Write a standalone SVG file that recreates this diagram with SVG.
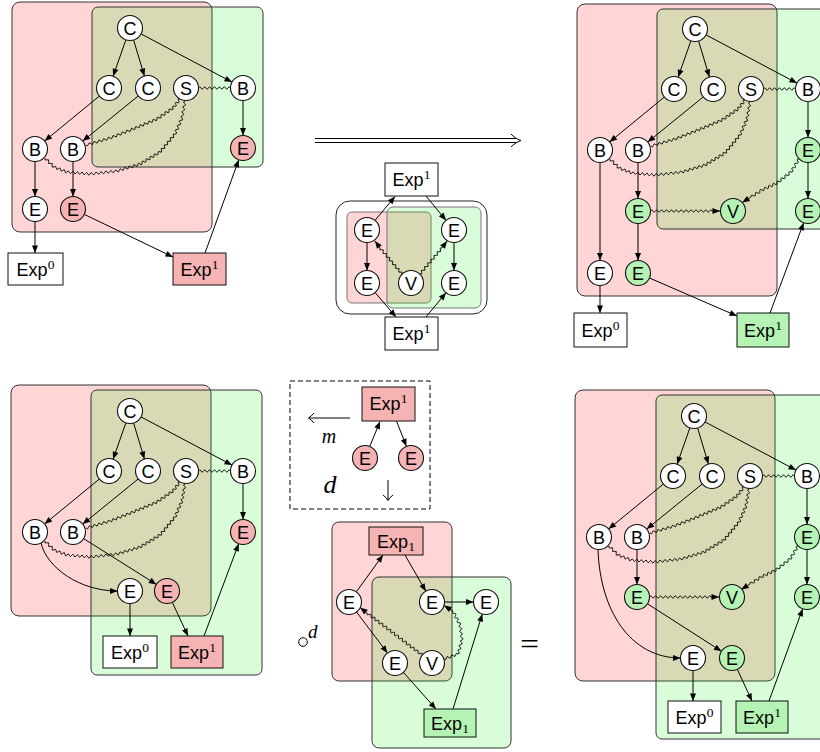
<svg xmlns="http://www.w3.org/2000/svg" width="820" height="752" viewBox="0 0 820 752">
<defs>
<style>
.pkr{fill:#ffd5d5;stroke:#333;stroke-width:1}
.grr{fill:#00f000;fill-opacity:0.15;stroke:#333;stroke-width:1}
.pkm{fill:#ffd5d5;stroke:#777;stroke-width:1}
.grm{fill:#00f000;fill-opacity:0.15;stroke:#777;stroke-width:1}
.n circle{fill:#fff;stroke:#111;stroke-width:1.1}
.n text,.bx text{font-family:"Liberation Sans",Arial,sans-serif;font-size:18px;text-anchor:middle;fill:#000}
.pk circle{fill:#f6b3b3}
.gn circle{fill:#b5f3b5}
.bx rect{fill:#fff;stroke:#111;stroke-width:1}
.bx.pk rect{fill:#f6b3b3}
.bx.gn rect{fill:#b5f3b5}
.bx text tspan{font-family:"Liberation Serif","Times New Roman",serif;font-size:13.5px}
.ar{fill:none;stroke:#000;stroke-width:1;marker-end:url(#ah)}
.wv{fill:none;stroke:#000;stroke-width:0.9}
.wa{fill:none;stroke:#000;stroke-width:0.9;marker-end:url(#ah)}
.sym{fill:none;stroke:#000;stroke-width:1}
.it{font-family:"Liberation Serif","Times New Roman",serif;font-style:italic;fill:#000}
</style>
<marker id="ah" viewBox="-8 -4 9 8" refX="0" refY="0" markerWidth="9" markerHeight="8" markerUnits="userSpaceOnUse" orient="auto"><path d="M0,0L-7.5,-3L-7.5,3z" fill="#000"/></marker>
<path id="wH" class="wa" d="M0,0q1.23,-2.6 2.46,0t2.46,0 2.46,0 2.46,0 2.46,0 2.46,0 2.46,0 2.46,0 2.46,0 2.46,0 2.46,0 2.46,0 2.46,0 2.46,0 2.46,0 2.46,0 2.46,0 2.46,0 2.46,0 2.46,0 2.46,0 2.46,0 2.46,0 2.46,0 2.46,0l8,0"/>
<path id="wER" class="wa" d="M0,0q-2.88,-0.28 -1.33,2.17t-1.33,2.17 -1.33,2.17 -1.33,2.17 -1.33,2.17 -1.33,2.17q-2.61,-1.26 -2,1.57t-2,1.57 -2,1.57 -2,1.57 -2,1.57 -2,1.57 -2,1.57q0.03,2.86 -2.14,1t-2.14,1 -2.14,1 -2.14,1 -2.14,1 -2.14,1 -2.14,1q-2.5,-1.49 -2.2,1.4t-2.2,1.4 -2.2,1.4 -2.2,1.4 -2.2,1.4l-8.84,5.49"/>
<g id="headWaves">
<path class="wv" d="M68.5,60q1.23,-2.6 2.46,0t2.46,0 2.46,0 2.46,0 2.46,0 2.46,0 2.46,0 2.46,0 2.46,0 2.46,0 2.46,0 2.46,0 2.46,0"/>
<path class="wv" d="M50,71q-2.75,-0.7 -1.4,1.8t-1.4,1.8 -1.4,1.8 -1.4,1.8 -1.4,1.8q0.47,2.83 -2,1.38t-2,1.38 -2,1.38 -2,1.38 -2,1.38 -2,1.38 -2,1.38 -2,1.38q-0.09,2.86 -2.18,0.91t-2.18,0.91 -2.18,0.91 -2.18,0.91 -2.18,0.91 -2.18,0.91 -2.18,0.91 -2.18,0.91 -2.18,0.91 -2.18,0.91 -2.18,0.91q-2.1,-1.97 -2.3,0.9t-2.3,0.9 -2.3,0.9 -2.3,0.9 -2.3,0.9 -2.3,0.9 -2.3,0.9 -2.3,0.9 -2.3,0.9 -2.3,0.9q-1.93,-2.15 -2.4,0.7t-2.4,0.7 -2.4,0.7 -2.4,0.7 -2.4,0.7 -2.4,0.7 -2.4,0.7 -2.4,0.7 -2.4,0.7 -2.4,0.7"/>
<path class="wv" d="M55,73q-2.78,0.76 -0.43,2.43t-0.43,2.43 -0.43,2.43 -0.43,2.43 -0.43,2.43 -0.43,2.43 -0.43,2.43q1.88,2.19 -1,2.29t-1,2.29 -1,2.29 -1,2.29 -1,2.29 -1,2.29 -1,2.29q-2.75,-0.76 -1.5,1.8t-1.5,1.8 -1.5,1.8 -1.5,1.8 -1.5,1.8 -1.5,1.8 -1.5,1.8 -1.5,1.8 -1.5,1.8 -1.5,1.8q-2.34,-1.63 -2,1.2t-2,1.2 -2,1.2 -2,1.2 -2,1.2 -2,1.2 -2,1.2 -2,1.2 -2,1.2 -2,1.2q-1.91,-2.14 -2.3,0.7t-2.3,0.7 -2.3,0.7 -2.3,0.7 -2.3,0.7 -2.3,0.7 -2.3,0.7 -2.3,0.7 -2.3,0.7 -2.3,0.7q-1.51,-2.45 -2.45,0.27t-2.45,0.27 -2.45,0.27 -2.45,0.27 -2.45,0.27 -2.45,0.27 -2.45,0.27 -2.45,0.27 -2.45,0.27 -2.45,0.27 -2.45,0.27q-1.38,2.49 -2.3,-0.2t-2.3,-0.2 -2.3,-0.2 -2.3,-0.2 -2.3,-0.2 -2.3,-0.2 -2.3,-0.2 -2.3,-0.2 -2.3,-0.2 -2.3,-0.2q-2.02,2.01 -2.17,-0.83t-2.17,-0.83 -2.17,-0.83 -2.17,-0.83 -2.17,-0.83 -2.17,-0.83q-2.74,0.94 -1.8,-1.8t-1.8,-1.8 -1.8,-1.8 -1.8,-1.8 -1.8,-1.8"/>
</g>
<g id="headArrows">
<path class="ar" d="M-4.1,11.8L-16.9,48.2"/>
<path class="ar" d="M3.6,12L14.4,48"/>
<path class="ar" d="M11,5.9L102,54.1"/>
<path class="ar" d="M-30.6,68L-85.4,113"/>
<path class="ar" d="M8.3,67.9L-47.3,113.1"/>
</g>
</defs>
<rect width="820" height="752" fill="#fff"/>
<g id="regions">
<rect class="pkr" x="12" y="2" width="200" height="230" rx="8"/>
<rect class="grr" x="92" y="7" width="171" height="160" rx="6"/>
<rect class="pkr" x="577" y="4" width="200" height="292" rx="8"/>
<rect class="grr" x="657" y="9" width="180" height="220" rx="6"/>
<rect class="pkr" x="11" y="385" width="200" height="231" rx="8"/>
<rect class="grr" x="91" y="390" width="171" height="285" rx="6"/>
<rect class="pkr" x="575" y="390" width="200" height="291" rx="8"/>
<rect class="grr" x="656" y="395" width="180" height="344" rx="6"/>
<rect x="336" y="201" width="151" height="113" rx="14" fill="#fff" stroke="#222" stroke-width="1"/>
<rect class="pkm" x="347" y="212" width="84" height="91" rx="5"/>
<rect class="grm" x="387" y="207" width="94" height="101" rx="6"/>
<rect class="pkr" x="332" y="522" width="120" height="159" rx="7"/>
<rect class="grr" x="372" y="577" width="139" height="171" rx="7"/>
<rect x="290" y="381" width="140" height="128" fill="none" stroke="#000" stroke-width="1" stroke-dasharray="5 3"/>
</g>
<g id="connectors">
<use href="#headArrows" x="130" y="28"/>
<use href="#headWaves" x="130" y="28"/>
<path class="ar" d="M243,100.5V135.5"/>
<path class="ar" d="M35,161.5V196.5"/>
<path class="ar" d="M73,161.5V196.5"/>
<path class="ar" d="M35,221.5V253"/>
<path class="ar" d="M84.3,214.4L173,257"/>
<path class="ar" d="M205,253L238.75,159.75"/>
<use href="#headArrows" x="130" y="411"/>
<use href="#headWaves" x="130" y="411"/>
<path class="ar" d="M243,483.5V519.5"/>
<path class="ar" d="M41,543C47,568 80,591 117.5,591"/>
<path class="ar" d="M83.6,538.6L156.4,584.4"/>
<path class="ar" d="M130,603.5V636"/>
<path class="ar" d="M172.3,602.3L188,636"/>
<path class="ar" d="M204,636L238.7,543.7"/>
<use href="#headArrows" x="695" y="29"/>
<use href="#headWaves" x="695" y="29"/>
<path class="ar" d="M808,101.5V137.5"/>
<path class="ar" d="M808,162.5V198.5"/>
<path class="ar" d="M638,162.5V198.5"/>
<path class="ar" d="M638,223.5V260.5"/>
<path class="ar" d="M600,162.5V260.5"/>
<path class="ar" d="M600,285.5V313"/>
<path class="ar" d="M649.5,278L737,316"/>
<path class="ar" d="M770,313L803.7,222.7"/>
<use href="#wH" x="650.5" y="211"/>
<use href="#wER" x="799" y="159"/>
<use href="#headArrows" x="694" y="416"/>
<use href="#headWaves" x="694" y="416"/>
<path class="ar" d="M807,488.5V524.5"/>
<path class="ar" d="M807,549.5V584.5"/>
<path class="ar" d="M637,549.5V584.5"/>
<path class="ar" d="M647.5,603.8L721.5,651.25"/>
<path class="ar" d="M598,549.5C600,610 630,658 680.5,658"/>
<path class="ar" d="M693,670.5V701"/>
<path class="ar" d="M737.3,669.3L752,701"/>
<path class="ar" d="M769,701L802.7,608.7"/>
<use href="#wH" x="649.5" y="597"/>
<use href="#wER" x="798" y="546"/>
<path class="ar" d="M375,220.4L395,196.5"/>
<path class="ar" d="M426,196L446,220.3"/>
<path class="ar" d="M367,242.5V270.5"/>
<path class="ar" d="M454,242.5V270.5"/>
<path class="ar" d="M375.1,292.5L396,317"/>
<path class="ar" d="M426,317L446,292.7"/>
<path class="wa" d="M402,274q1.2,-2.61 -1.57,-1.86t-1.57,-1.86 -1.57,-1.86 -1.57,-1.86 -1.57,-1.86 -1.57,-1.86 -1.57,-1.86 -1.57,-1.86 -1.57,-1.86 -1.57,-1.86 -1.57,-1.86 -1.57,-1.86 -1.57,-1.86 -1.57,-1.86L375,241"/>
<path class="wa" d="M420,274q2.77,0.75 1.57,-1.86t1.57,-1.86 1.57,-1.86 1.57,-1.86 1.57,-1.86 1.57,-1.86 1.57,-1.86 1.57,-1.86 1.57,-1.86 1.57,-1.86 1.57,-1.86 1.57,-1.86 1.57,-1.86 1.57,-1.86L447,241"/>
<path class="ar" d="M369.75,446.4L380,421.5"/>
<path class="ar" d="M396.5,421L406.4,446.35"/>
<path class="ar" d="M356.3,591.9L383,555"/>
<path class="ar" d="M405,555L425.8,591.2"/>
<path class="ar" d="M444.5,602L473.5,602"/>
<path class="ar" d="M356.5,612L387.5,653"/>
<path class="ar" d="M403.3,672.3L436,709"/>
<path class="ar" d="M453,709L482.3,613.9"/>
<path class="wa" d="M422,655q0.6,-2.82 -1.96,-1.5t-1.96,-1.5 -1.96,-1.5 -1.96,-1.5 -1.96,-1.5 -1.96,-1.5 -1.96,-1.5 -1.96,-1.5 -1.96,-1.5 -1.96,-1.5 -1.96,-1.5 -1.96,-1.5 -1.96,-1.5 -1.96,-1.5 -1.96,-1.5 -1.96,-1.5 -1.96,-1.5 -1.96,-1.5 -1.96,-1.5 -1.96,-1.5 -1.96,-1.5 -1.96,-1.5 -1.96,-1.5 -1.96,-1.5 -1.96,-1.5 -1.96,-1.5 -1.96,-1.5 -1.96,-1.5L360,607.6"/>
<path class="wa" d="M444,659q2.04,2.03 2.33,-0.83t2.33,-0.83 2.33,-0.83 2.33,-0.83 2.33,-0.83 2.33,-0.83q2.83,-0.45 0.67,-2.33t0.67,-2.33 0.67,-2.33 0.67,-2.33 0.67,-2.33 0.67,-2.33q2.41,-1.59 -0.33,-2.5t-0.33,-2.5 -0.33,-2.5 -0.33,-2.5 -0.33,-2.5 -0.33,-2.5q1.74,-2.33 -1.17,-2.33t-1.17,-2.33 -1.17,-2.33 -1.17,-2.33 -1.17,-2.33 -1.17,-2.33L444,605.5"/>
</g>
<g id="symbols">
<path class="sym" d="M315,138.5H516M315,142.5H516"/>
<path class="sym" d="M511,134C513.5,136.5 516.5,139 521,140.5C516.5,142 513.5,144.5 511,147"/>
<path class="sym" d="M309,418H350M314,413Q311,416.5 308.5,418Q311,419.5 314,423"/>
<path class="sym" d="M388,480V500M383,495Q386.5,497.5 388,500.5Q389.5,497.5 393,495"/>
<circle class="sym" cx="303" cy="642" r="4.3"/>
</g>
<g id="labels">
<text class="it" x="329" y="443" font-size="20" text-anchor="middle">m</text>
<text class="it" x="330" y="493" font-size="26" text-anchor="middle">d</text>
<text class="it" x="308" y="638" font-size="19">d</text>
<text x="520" y="654" font-family="Liberation Serif,serif" font-size="30" textLength="19" lengthAdjust="spacingAndGlyphs">=</text>
</g>
<g id="nodes">
<g id="a-C" class="n"><circle cx="130" cy="28" r="12.5"/><text x="130" y="34.5">C</text></g>
<g id="a-C1" class="n"><circle cx="109" cy="88" r="12.5"/><text x="109" y="94.5">C</text></g>
<g id="a-C2" class="n"><circle cx="148" cy="88" r="12.5"/><text x="148" y="94.5">C</text></g>
<g id="a-S" class="n"><circle cx="186" cy="88" r="12.5"/><text x="186" y="94.5">S</text></g>
<g id="a-B3" class="n"><circle cx="243" cy="88" r="12.5"/><text x="243" y="94.5">B</text></g>
<g id="a-B1" class="n"><circle cx="35" cy="149" r="12.5"/><text x="35" y="155.5">B</text></g>
<g id="a-B2" class="n"><circle cx="73" cy="149" r="12.5"/><text x="73" y="155.5">B</text></g>
<g id="a-E3" class="n pk"><circle cx="243" cy="148" r="12.5"/><text x="243" y="154.5">E</text></g>
<g id="a-E1" class="n"><circle cx="35" cy="209" r="12.5"/><text x="35" y="215.5">E</text></g>
<g id="a-E2" class="n pk"><circle cx="73" cy="209" r="12.5"/><text x="73" y="215.5">E</text></g>
<g id="a-X0" class="bx"><rect x="8" y="253" width="55" height="32"/><text x="35.5" y="275.5">Exp<tspan dy="-7">0</tspan></text></g>
<g id="a-X1" class="bx pk"><rect x="173" y="253" width="53" height="32"/><text x="199.5" y="275.5">Exp<tspan dy="-7">1</tspan></text></g>

<g id="c-C" class="n"><circle cx="130" cy="411" r="12.5"/><text x="130" y="417.5">C</text></g>
<g id="c-C1" class="n"><circle cx="109" cy="471" r="12.5"/><text x="109" y="477.5">C</text></g>
<g id="c-C2" class="n"><circle cx="148" cy="471" r="12.5"/><text x="148" y="477.5">C</text></g>
<g id="c-S" class="n"><circle cx="186" cy="471" r="12.5"/><text x="186" y="477.5">S</text></g>
<g id="c-B3" class="n"><circle cx="243" cy="471" r="12.5"/><text x="243" y="477.5">B</text></g>
<g id="c-B1" class="n"><circle cx="35" cy="532" r="12.5"/><text x="35" y="538.5">B</text></g>
<g id="c-B2" class="n"><circle cx="73" cy="532" r="12.5"/><text x="73" y="538.5">B</text></g>
<g id="c-E3" class="n pk"><circle cx="243" cy="532" r="12.5"/><text x="243" y="538.5">E</text></g>
<g id="c-E1" class="n"><circle cx="130" cy="591" r="12.5"/><text x="130" y="597.5">E</text></g>
<g id="c-E2" class="n pk"><circle cx="167" cy="591" r="12.5"/><text x="167" y="597.5">E</text></g>
<g id="c-X0" class="bx"><rect x="103" y="636" width="54" height="32"/><text x="130" y="658.5">Exp<tspan dy="-7">0</tspan></text></g>
<g id="c-X1" class="bx pk"><rect x="171" y="636" width="52" height="32"/><text x="197" y="658.5">Exp<tspan dy="-7">1</tspan></text></g>

<g id="b-C" class="n"><circle cx="695" cy="29" r="12.5"/><text x="695" y="35.5">C</text></g>
<g id="b-C1" class="n"><circle cx="674" cy="89" r="12.5"/><text x="674" y="95.5">C</text></g>
<g id="b-C2" class="n"><circle cx="713" cy="89" r="12.5"/><text x="713" y="95.5">C</text></g>
<g id="b-S" class="n"><circle cx="751" cy="89" r="12.5"/><text x="751" y="95.5">S</text></g>
<g id="b-B3" class="n"><circle cx="808" cy="89" r="12.5"/><text x="808" y="95.5">B</text></g>
<g id="b-B1" class="n"><circle cx="600" cy="150" r="12.5"/><text x="600" y="156.5">B</text></g>
<g id="b-B2" class="n"><circle cx="638" cy="150" r="12.5"/><text x="638" y="156.5">B</text></g>
<g id="b-E3" class="n gn"><circle cx="808" cy="150" r="12.5"/><text x="808" y="156.5">E</text></g>
<g id="b-E2" class="n gn"><circle cx="638" cy="211" r="12.5"/><text x="638" y="217.5">E</text></g>
<g id="b-V" class="n gn"><circle cx="733" cy="211" r="12.5"/><text x="733" y="217.5">V</text></g>
<g id="b-E4" class="n gn"><circle cx="808" cy="211" r="12.5"/><text x="808" y="217.5">E</text></g>
<g id="b-E1" class="n"><circle cx="600" cy="273" r="12.5"/><text x="600" y="279.5">E</text></g>
<g id="b-E5" class="n gn"><circle cx="638" cy="273" r="12.5"/><text x="638" y="279.5">E</text></g>
<g id="b-X0" class="bx"><rect x="574" y="313" width="53" height="34"/><text x="600.5" y="336.5">Exp<tspan dy="-7">0</tspan></text></g>
<g id="b-X1" class="bx gn"><rect x="737" y="313" width="52" height="34"/><text x="763" y="336.5">Exp<tspan dy="-7">1</tspan></text></g>

<g id="d-C" class="n"><circle cx="694" cy="416" r="12.5"/><text x="694" y="422.5">C</text></g>
<g id="d-C1" class="n"><circle cx="673" cy="476" r="12.5"/><text x="673" y="482.5">C</text></g>
<g id="d-C2" class="n"><circle cx="712" cy="476" r="12.5"/><text x="712" y="482.5">C</text></g>
<g id="d-S" class="n"><circle cx="750" cy="476" r="12.5"/><text x="750" y="482.5">S</text></g>
<g id="d-B3" class="n"><circle cx="807" cy="476" r="12.5"/><text x="807" y="482.5">B</text></g>
<g id="d-B1" class="n"><circle cx="599" cy="537" r="12.5"/><text x="599" y="543.5">B</text></g>
<g id="d-B2" class="n"><circle cx="637" cy="537" r="12.5"/><text x="637" y="543.5">B</text></g>
<g id="d-E3" class="n gn"><circle cx="807" cy="537" r="12.5"/><text x="807" y="543.5">E</text></g>
<g id="d-E2" class="n gn"><circle cx="637" cy="597" r="12.5"/><text x="637" y="603.5">E</text></g>
<g id="d-V" class="n gn"><circle cx="732" cy="597" r="12.5"/><text x="732" y="603.5">V</text></g>
<g id="d-E4" class="n gn"><circle cx="807" cy="597" r="12.5"/><text x="807" y="603.5">E</text></g>
<g id="d-E1" class="n"><circle cx="693" cy="658" r="12.5"/><text x="693" y="664.5">E</text></g>
<g id="d-E5" class="n gn"><circle cx="732" cy="658" r="12.5"/><text x="732" y="664.5">E</text></g>
<g id="d-X0" class="bx"><rect x="668" y="701" width="53" height="32"/><text x="694.5" y="723.5">Exp<tspan dy="-7">0</tspan></text></g>
<g id="d-X1" class="bx gn"><rect x="736" y="701" width="52" height="32"/><text x="762" y="723.5">Exp<tspan dy="-7">1</tspan></text></g>

<g id="m-X1" class="bx"><rect x="385" y="163" width="53" height="33"/><text x="411.5" y="186">Exp<tspan dy="-7">1</tspan></text></g>
<g id="m-X2" class="bx"><rect x="385" y="317" width="53" height="33"/><text x="411.5" y="340">Exp<tspan dy="-7">1</tspan></text></g>
<g id="m-E1" class="n"><circle cx="367" cy="230" r="12.5"/><text x="367" y="236.5">E</text></g>
<g id="m-E2" class="n"><circle cx="367" cy="283" r="12.5"/><text x="367" y="289.5">E</text></g>
<g id="m-V" class="n"><circle cx="411" cy="283" r="12.5"/><text x="411" y="289.5">V</text></g>
<g id="m-E3" class="n"><circle cx="454" cy="230" r="12.5"/><text x="454" y="236.5">E</text></g>
<g id="m-E4" class="n"><circle cx="454" cy="283" r="12.5"/><text x="454" y="289.5">E</text></g>

<g id="k-X" class="bx pk"><rect x="362" y="387" width="53" height="34"/><text x="388.5" y="410">Exp<tspan dy="-7">1</tspan></text></g>
<g id="k-E1" class="n pk"><circle cx="365" cy="458" r="12.5"/><text x="365" y="464.5">E</text></g>
<g id="k-E2" class="n pk"><circle cx="411" cy="458" r="12.5"/><text x="411" y="464.5">E</text></g>

<g id="n-X1" class="bx pk"><rect x="369" y="527" width="54" height="28"/><text x="396" y="547.5">Exp<tspan dy="3">1</tspan></text></g>
<g id="n-Ea" class="n"><circle cx="349" cy="602" r="12.5"/><text x="349" y="608.5">E</text></g>
<g id="n-Eb" class="n"><circle cx="432" cy="602" r="12.5"/><text x="432" y="608.5">E</text></g>
<g id="n-Ec" class="n"><circle cx="486" cy="602" r="12.5"/><text x="486" y="608.5">E</text></g>
<g id="n-Ed" class="n"><circle cx="395" cy="663" r="12.5"/><text x="395" y="669.5">E</text></g>
<g id="n-V" class="n"><circle cx="432" cy="663" r="12.5"/><text x="432" y="669.5">V</text></g>
<g id="n-X2" class="bx gn"><rect x="424" y="709" width="52" height="28"/><text x="450" y="729.5">Exp<tspan dy="3">1</tspan></text></g>
</g>
</svg>
